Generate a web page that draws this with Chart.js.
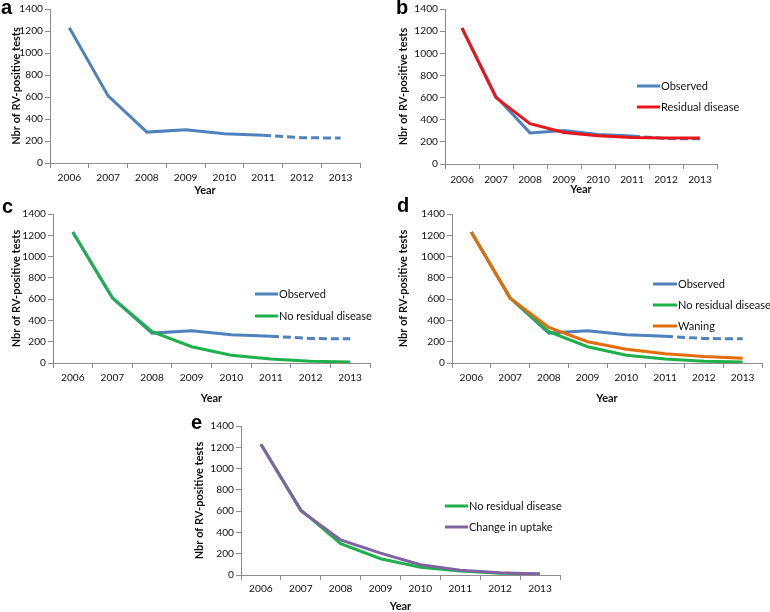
<!DOCTYPE html>
<html>
<head>
<meta charset="utf-8">
<script src="https://cdn.jsdelivr.net/npm/chart.js@4.4.1/dist/chart.umd.min.js"></script>
<style>
  html, body { margin:0; padding:0; background:#fff; }
  body { width:770px; height:612px; position:relative; overflow:hidden; }
  .pan { position:absolute; }
  .lbl { position:absolute; font:bold 20px "Liberation Sans", Arial, sans-serif; line-height:20px; color:#000; }
</style>
</head>
<body>
<script>
// ---- data ----
const years = ['2006', '2007', '2008', '2009', '2010', '2011', '2012', '2013'];
const observed = [1230, 610, 281, 303, 266, 252, 230, 227];
const residualDisease = [1228, 600, 365, 285, 255, 240, 235, 235];
const noResidualDisease = [1228, 612, 295, 153, 73, 37, 17, 10];
const waning = [1228, 610, 335, 200, 130, 88, 60, 45];
const changeInUptake = [1228, 605, 330, 205, 97, 45, 22, 10];
const yTickValues = [0, 200, 400, 600, 800, 1000, 1200, 1400];
const panelLetters = ['a', 'b', 'c', 'd', 'e'];

const seriesDefs = {
  observed:  { label: 'Observed', data: observed, color: '#4F81BD', dashFrom: 5, order: 9 },
  residual:  { label: 'Residual disease', data: residualDisease, color: '#E8161B', order: 1 },
  noResid:   { label: 'No residual disease', data: noResidualDisease, color: '#1DB14B', order: 2 },
  waning:    { label: 'Waning', data: waning, color: '#E46C0A', order: 1 },
  uptake:    { label: 'Change in uptake', data: changeInUptake, color: '#8064A2', order: 1 }
};

const FONT = 'Lato, "Open Sans", sans-serif';
const TXT = '#111';

// inline legend plugin
const inLegend = {
  id: 'inLegend',
  afterDraw(chart, args, opts) {
    if (!opts.items) return;
    const ctx = chart.ctx;
    ctx.save();
    opts.items.forEach((it, i) => {
      const ds = chart.data.datasets[it.ds];
      const y = opts.y0 + i * opts.dy;
      ctx.strokeStyle = ds.borderColor;
      ctx.lineWidth = 3;
      ctx.beginPath();
      ctx.moveTo(opts.x1, y);
      ctx.lineTo(opts.x2, y);
      ctx.stroke();
      ctx.fillStyle = TXT;
      ctx.font = '11px ' + FONT;
      ctx.textBaseline = 'middle';
      ctx.textAlign = 'left';
      ctx.fillText(ds.label, opts.x2 + 1, y);
    });
    ctx.restore();
  }
};

const panels = [
  { left:0, top:0, w:380, h:197, area:{l:50, r:360, t:7, b:163}, yTitleX:16, tickY:178, yearY:190,
    series:['observed'], legend:null, letter:{x:1, y:-3} },
  { left:385, top:0, w:385, h:197, area:{l:60, r:332, t:5, b:164}, yTitleX:18, tickY:180, yearY:189,
    series:['observed','residual'], legend:{x1:252, x2:275, y0:86, dy:21, items:[0,1]}, letter:{x:396, y:-3} },
  { left:0, top:195, w:380, h:210, area:{l:53, r:370, t:19, b:168}, yTitleX:16, tickY:183, yearY:203,
    series:['observed','noResid'], legend:{x1:255, x2:278, y0:99, dy:22, items:[0,1]}, letter:{x:2, y:196} },
  { left:385, top:195, w:385, h:210, area:{l:67, r:377, t:19, b:168}, yTitleX:18, tickY:183, yearY:203,
    series:['observed','noResid','waning'], legend:{x1:268, x2:292, y0:89, dy:21, items:[0,1,2]}, letter:{x:397, y:195} },
  { left:180, top:395, w:400, h:217, area:{l:61, r:380, t:31, b:180}, yTitleX:19, tickY:194, yearY:211,
    series:['noResid','uptake'], legend:{x1:265, x2:288, y0:111, dy:21, items:[0,1]}, letter:{x:191, y:412} }
];

panels.forEach((p, idx) => {
  const c = document.createElement('canvas');
  c.className = 'pan';
  c.style.left = p.left + 'px';
  c.style.top = p.top + 'px';
  c.style.width = p.w + 'px';
  c.style.height = p.h + 'px';
  c.width = p.w; c.height = p.h;
  document.body.appendChild(c);

  const lb = document.createElement('div');
  lb.className = 'lbl';
  lb.textContent = panelLetters[idx];
  lb.style.left = p.letter.x + 'px';
  lb.style.top = p.letter.y + 'px';
  document.body.appendChild(lb);

  const datasets = p.series.map(k => {
    const s = seriesDefs[k];
    return {
      label: s.label,
      data: s.data,
      borderColor: s.color,
      backgroundColor: s.color,
      borderWidth: 3,
      pointRadius: 0,
      tension: 0,
      fill: false,
      order: s.order,
      segment: s.dashFrom !== undefined ? {
        borderDash: ctx => ctx.p0DataIndex >= s.dashFrom ? [8, 4] : undefined
      } : undefined
    };
  });

  const tickFontSize = 10.2;
  const tickLH = 14;
  const titleLH = 12;
  new Chart(c, {
    type: 'line',
    data: { labels: years, datasets },
    plugins: [inLegend],
    options: {
      responsive: false,
      animation: false,
      events: [],
      layout: { padding: { left: 0, top: p.area.t, right: p.w - p.area.r, bottom: 0 } },
      plugins: {
        legend: { display: false },
        tooltip: { enabled: false },
        inLegend: p.legend ? { x1: p.legend.x1, x2: p.legend.x2, y0: p.legend.y0, dy: p.legend.dy,
                               items: p.legend.items.map(i => ({ ds: i })) } : {}
      },
      scales: {
        x: {
          type: 'category',
          offset: true,
          grid: { display: true, offset: true, drawOnChartArea: false, drawTicks: true, tickLength: 5, color: '#8c8c8c' },
          border: { display: true, color: '#8c8c8c', width: 1 },
          ticks: { color: TXT, font: { family: FONT, size: tickFontSize, lineHeight: tickLH + 'px' }, padding: (p.tickY - p.area.b) - 5 - tickLH / 2, maxRotation: 0, autoSkip: false },
          title: { display: true, text: 'Year', color: TXT, font: { family: FONT, size: 11, weight: 'bold', lineHeight: titleLH + 'px' },
                   padding: { top: 0, bottom: (p.h - p.yearY) - titleLH / 2 } },
          afterFit(scale) { scale.height = p.h - p.area.b; }
        },
        y: {
          min: 0, max: 1400,
          afterBuildTicks(scale) { scale.ticks = yTickValues.map(v => ({ value: v })); },
          grid: { display: true, drawOnChartArea: false, drawTicks: true, tickLength: 5, color: '#8c8c8c' },
          border: { display: true, color: '#8c8c8c', width: 1 },
          ticks: { color: TXT, font: { family: FONT, size: tickFontSize, lineHeight: tickLH + 'px' }, padding: 2,
                   callback: v => String(v) },
          title: { display: true, text: 'Nbr of RV-positive tests', color: TXT,
                   font: { family: FONT, size: 11, weight: 'bold', lineHeight: titleLH + 'px' },
                   padding: { top: p.yTitleX - titleLH / 2, bottom: 0 } },
          afterFit(scale) { scale.width = p.area.l; }
        }
      }
    }
  });
});
</script>
</body>
</html>
